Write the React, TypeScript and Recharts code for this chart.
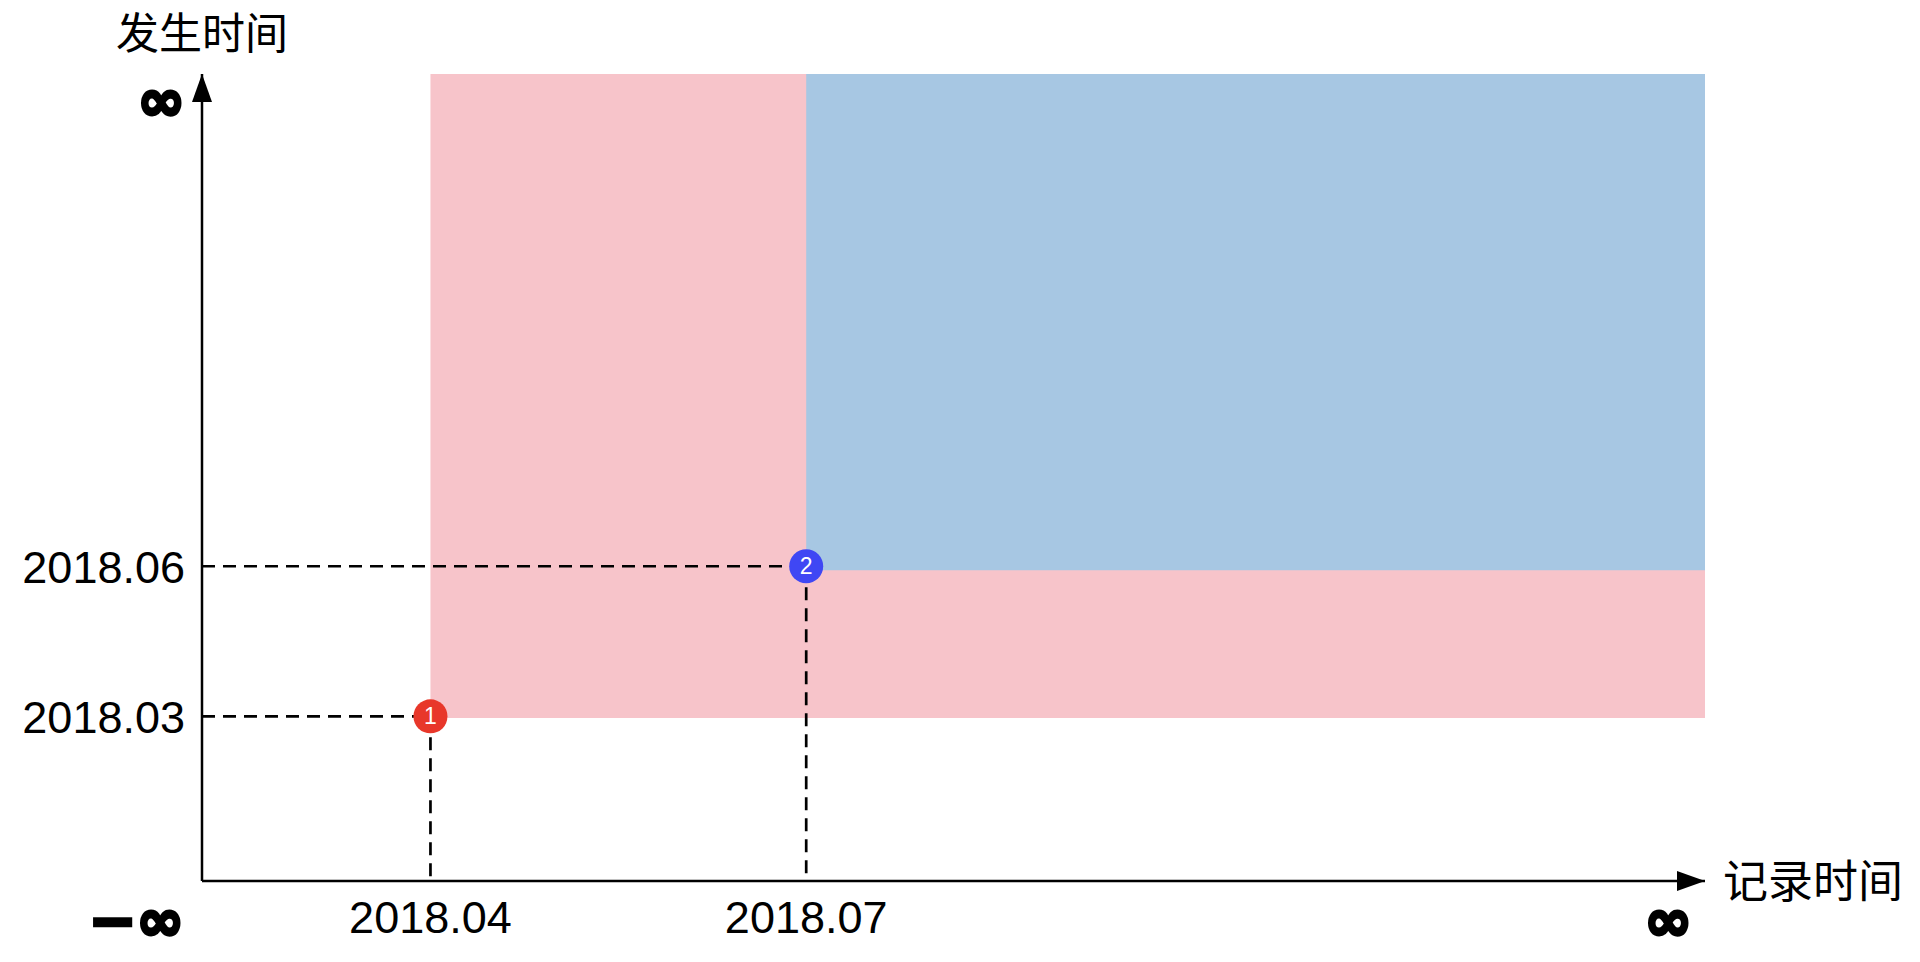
import { ComposedChart, XAxis, YAxis, ReferenceArea, ReferenceLine, Scatter } from "recharts";

// record time (x) and occurrence time (y) of the two events, on a 0..100 schematic scale
const recordLabels = ["2018.04", "2018.07"];
const recordPos = [15.2, 40.2];
const occurLabels = ["2018.03", "2018.06"];
const occurPos = [20.4, 39];
const pointIds = [1, 2];
// where each shaded region starts (a hair under the points)
const regionFromX = [15.2, 40.2];
const regionFromY = [20.2, 38.5];
const NEG_INF = 0;
const POS_INF = 100;

const xTicks = [NEG_INF, ...recordPos, POS_INF];
const xTickLabels = ["−∞", ...recordLabels, "∞"];
const yTicks = [...occurPos, POS_INF];
const yTickLabels = [...occurLabels, "∞"];

const points = recordPos.map((x, i) => ({ x, y: occurPos[i], id: pointIds[i] }));
const arrowTips = [
  { x: NEG_INF, y: POS_INF, dir: "up" },
  { x: POS_INF, y: NEG_INF, dir: "right" },
];

const POINT_COLORS = ["#E8372A", "#3F47F4"];
const REGION_COLORS = ["#F7C4CA", "#A7C7E3"];
const FONT = "'Liberation Sans', Arial, sans-serif";
const SYM = "'DejaVu Sans', sans-serif";
const CJK = "'Noto Sans CJK SC', sans-serif";

const near = (a: number, b: number) => Math.abs(a - b) < 1e-6;

// heavy infinity glyph, thickened with a stroke like the reference
const symStyle = { fontFamily: SYM, fontWeight: "bold" as const, fontSize: 57, fill: "#000", stroke: "#000", strokeWidth: 3.5 };

function XTick({ x, y, payload }: any) {
  const i = xTicks.findIndex((t) => near(t, payload.value));
  const label = xTickLabels[i];
  if (near(payload.value, NEG_INF))
    return <text x={x - 18} y={y + 59} textAnchor="end" {...symStyle}>{label}</text>;
  if (near(payload.value, POS_INF))
    return <text x={x - 13} y={y + 59} textAnchor="end" {...symStyle}>{label}</text>;
  return <text x={x} y={y + 52} textAnchor="middle" fontFamily={FONT} fontSize={45} fill="#000">{label}</text>;
}

function YTick({ x, y, payload }: any) {
  const i = yTicks.findIndex((t) => near(t, payload.value));
  const label = yTickLabels[i];
  if (near(payload.value, POS_INF))
    return <text x={x - 17} y={y + 46} textAnchor="end" {...symStyle}>{label}</text>;
  return <text x={x - 17} y={y + 17} textAnchor="end" fontFamily={FONT} fontSize={45} fill="#000">{label}</text>;
}

function Arrow({ cx, cy, payload }: any) {
  if (payload.dir === "up")
    return <polygon points={`${cx},${cy} ${cx - 10},${cy + 28} ${cx + 10},${cy + 28}`} fill="#000" />;
  return <polygon points={`${cx},${cy} ${cx - 28},${cy - 10} ${cx - 28},${cy + 10}`} fill="#000" />;
}

function Marker({ cx, cy, payload }: any) {
  const color = POINT_COLORS[payload.id - 1];
  return (
    <g>
      <circle cx={cx} cy={cy} r={17} fill={color} />
      <text x={cx} y={cy + 8} textAnchor="middle" fontFamily={FONT} fontSize={23} fill="#fff">{payload.id}</text>
    </g>
  );
}

export default function App() {
  return (
    <div style={{ position: "absolute", left: 0, top: 0, width: 1920, height: 962, background: "#fff" }}>
      <ComposedChart width={1920} height={962} margin={{ top: 74, right: 215, bottom: 21, left: 52 }}>
        <XAxis
          type="number"
          dataKey="x"
          domain={[NEG_INF, POS_INF]}
          ticks={xTicks}
          interval={0}
          height={60}
          tickSize={0}
          tickMargin={0}
          tickLine={false}
          axisLine={{ stroke: "#000", strokeWidth: 2.5 }}
          tick={<XTick />}
          label={(p: any) => {
            const vb = p.viewBox ?? { x: 202, y: 881, width: 1503, height: 60 };
            return <text x={vb.x + vb.width + 18} y={vb.y + 17} fontFamily={CJK} fontSize={45} fill="#000">记录时间</text>;
          }}
        />
        <YAxis
          type="number"
          dataKey="y"
          domain={[NEG_INF, POS_INF]}
          ticks={yTicks}
          interval={0}
          width={150}
          tickSize={0}
          tickMargin={0}
          tickLine={false}
          axisLine={{ stroke: "#000", strokeWidth: 2.5 }}
          tick={<YTick />}
          label={(p: any) => {
            const vb = p.viewBox ?? { x: 52, y: 74, width: 150, height: 807 };
            return <text x={vb.x + vb.width} y={vb.y - 25} textAnchor="middle" fontFamily={CJK} fontSize={43} fill="#000">发生时间</text>;
          }}
        />
        {regionFromX.map((x, i) => (
          <ReferenceArea key={`area${i}`} x1={x} x2={POS_INF} y1={regionFromY[i]} y2={POS_INF} fill={REGION_COLORS[i]} fillOpacity={1} stroke="none" />
        ))}
        {points.map((p, i) => (
          <ReferenceLine key={`h${i}`} segment={[{ x: NEG_INF, y: p.y }, { x: p.x, y: p.y }]} stroke="#000" strokeWidth={2.7} strokeDasharray="13 8" />
        ))}
        {points.map((p, i) => (
          <ReferenceLine key={`v${i}`} segment={[{ x: p.x, y: p.y }, { x: p.x, y: NEG_INF }]} stroke="#000" strokeWidth={2.7} strokeDasharray="13 8" />
        ))}
        <Scatter data={arrowTips} shape={<Arrow />} isAnimationActive={false} />
        <Scatter data={points} shape={<Marker />} isAnimationActive={false} />
      </ComposedChart>
    </div>
  );
}
